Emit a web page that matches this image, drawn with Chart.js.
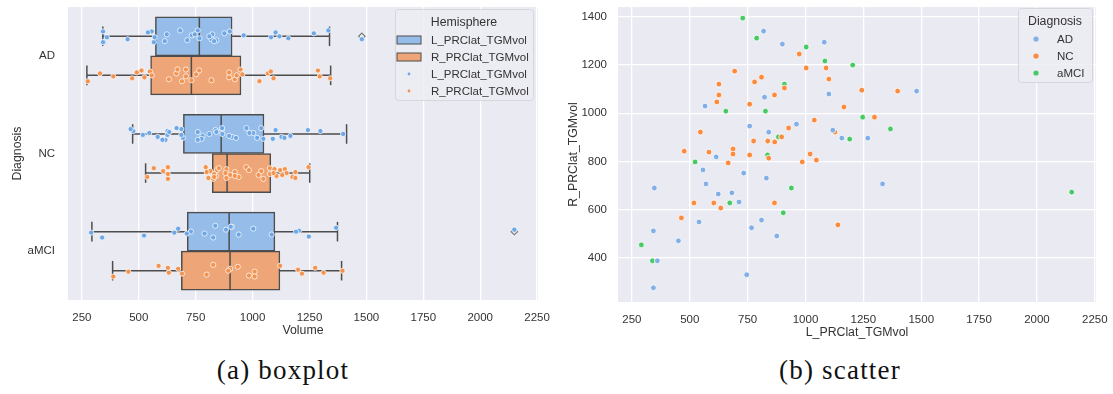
<!DOCTYPE html>
<html>
<head>
<meta charset="utf-8">
<script src="https://cdn.jsdelivr.net/npm/chart.js@4.4.0/dist/chart.umd.min.js"></script>
<style>
  body { margin:0; background:#fff; width:1113px; height:394px; position:relative; overflow:hidden; }
  .panel { position:absolute; top:0; }
  #boxPanel { left:0; }
  #scatPanel { left:555px; }
  .cap { position:absolute; top:357px; line-height:1; font-family:"Liberation Serif", serif; font-size:27px; letter-spacing:1.2px; color:#111; transform:translateX(-50%); white-space:nowrap; }
</style>
</head>
<body>
<div class="panel" id="boxPanel"><canvas id="boxChart" width="555" height="345"></canvas></div>
<div class="panel" id="scatPanel"><canvas id="scatChart" width="558" height="345"></canvas></div>
<div class="cap" style="left:283px">(a) boxplot</div>
<div class="cap" style="left:840px">(b) scatter</div>
<script>
const diagnoses = ['AD', 'NC', 'aMCI'];
const hemispheres = ['L_PRClat_TGMvol', 'R_PRClat_TGMvol'];
const volumeTicks = [250, 500, 750, 1000, 1250, 1500, 1750, 2000, 2250];
const rightTicks = [400, 600, 800, 1000, 1200, 1400];

// per-subject volumes (left / right hemisphere)
const adL = [819, 900, 1081, 566, 823, 759, 841, 961, 614, 1101, 1118, 1157, 1269, 1480, 557, 570, 347, 623, 682, 713, 733, 831, 540, 810, 767, 876, 451, 343, 360, 343, 746, 1333];
const adR = [1341, 1287, 1295, 1030, 1067, 947, 922, 955, 819, 1080, 930, 897, 897, 1092, 765, 707, 690, 665, 670, 632, 752, 731, 549, 557, 525, 491, 471, 512, 388, 276, 330, 707];
const ncL = [973, 694, 1003, 1089, 1101, 810, 780, 626, 909, 866, 626, 617, 759, 1038, 927, 546, 776, 837, 867, 897, 476, 583, 687, 687, 759, 841, 666, 1020, 986, 1047, 1243, 1398, 1166, 1298, 1127, 464, 518, 604, 634, 866, 1140];
const ncR = [1246, 1175, 1188, 1188, 1142, 1150, 1130, 1121, 1105, 1076, 1076, 1047, 1038, 972, 939, 922, 885, 885, 881, 902, 843, 839, 852, 831, 827, 814, 794, 831, 798, 806, 1096, 1092, 1026, 984, 922, 566, 628, 628, 607, 628, 537];
const mciL = [729, 789, 1003, 1084, 909, 656, 827, 883, 836, 523, 1204, 1247, 1367, 1191, 711, 673, 939, 904, 291, 339, 2150];
const mciR = [1395, 1312, 1275, 1217, 1121, 1009, 1009, 902, 827, 798, 1200, 984, 935, 893, 632, 628, 690, 587, 454, 388, 673];

// box summaries per diagnosis: [whisker low, q1, median, q3, whisker high]
const boxL = [[342, 573, 766, 910, 1338], [473, 696, 862, 1050, 1413], [294, 713, 897, 1098, 1373]];
const boxR = [[272, 552, 731, 949, 1343], [530, 823, 888, 1080, 1251], [385, 687, 901, 1120, 1391]];
const fliersL = [[1480], [], [2150]];
const fliersR = [[], [], []];

const FONT = '"Liberation Sans", Arial, sans-serif';
const tickFont = { family: FONT, size: 11.5 };
const titleFont = { family: FONT, size: 12.3 };
const TXT = '#333';
const EDGE = '#4d4d4d';
const BG = '#eaeaf2';

const boxFill = ['#96bde9', '#eea678'];
const stripFill = ['#6ea7e6', '#f39350'];
const diagColors = ['#82b0e6', '#f98c40', '#48c966'];

const DODGE = 0.2;
// jitter pattern for the strip points (in category units)
const jit = [0.03, -0.05, 0.01, 0.06, -0.02, -0.06, 0.04, -0.01, 0.05, -0.04, 0.0, 0.02, -0.03];

function stripPoints(groups, shift) {
  const out = [];
  groups.forEach((vals, g) => vals.forEach((v, i) => out.push({ x: v, y: g + shift + jit[(i + g * 5) % jit.length] })));
  return out;
}

const areaBg = {
  id: 'areaBg',
  beforeDraw(chart) {
    const { ctx, chartArea: a } = chart;
    ctx.save();
    ctx.fillStyle = BG;
    ctx.fillRect(a.left, a.top, a.right - a.left, a.bottom - a.top);
    ctx.restore();
  }
};

// whiskers, caps, medians and fliers drawn on top of each box dataset
const boxExtras = {
  id: 'boxExtras',
  afterDatasetDraw(chart, args) {
    const ds = chart.data.datasets[args.index];
    if (!ds.stats) return;
    const ctx = chart.ctx;
    const px = v => chart.scales.x.getPixelForValue(v);
    const seg = (x1, y1, x2, y2) => { ctx.beginPath(); ctx.moveTo(x1, y1); ctx.lineTo(x2, y2); ctx.stroke(); };
    ctx.save();
    args.meta.data.forEach((bar, i) => {
      const s = ds.stats[i];
      const yc = bar.y, h = bar.height;
      ctx.strokeStyle = EDGE;
      ctx.lineWidth = 1.5;
      seg(px(s[0]), yc, px(s[1]), yc);
      seg(px(s[3]), yc, px(s[4]), yc);
      seg(px(s[0]), yc - h / 4, px(s[0]), yc + h / 4);
      seg(px(s[4]), yc - h / 4, px(s[4]), yc + h / 4);
      seg(px(s[2]), yc - h / 2, px(s[2]), yc + h / 2);
      ctx.strokeStyle = '#777';
      ctx.lineWidth = 1.1;
      ds.fliers[i].forEach(v => {
        const x = px(v), r = 3.2;
        ctx.beginPath();
        ctx.moveTo(x, yc - r); ctx.lineTo(x + r, yc); ctx.lineTo(x, yc + r); ctx.lineTo(x - r, yc); ctx.closePath();
        ctx.stroke();
      });
    });
    ctx.restore();
  }
};

function makeLegend(id, spec) {
  return {
    id,
    afterDraw(chart) {
      const { ctx, chartArea: a } = chart;
      const left = a.right - spec.inset - spec.width, top = a.top + spec.top;
      ctx.save();
      ctx.fillStyle = 'rgba(236,236,243,0.85)';
      ctx.strokeStyle = '#d6d6de';
      ctx.lineWidth = 1;
      ctx.beginPath();
      ctx.roundRect(left + 0.5, top + 0.5, spec.width, spec.height, 3);
      ctx.fill();
      ctx.stroke();
      ctx.fillStyle = TXT;
      ctx.textBaseline = 'middle';
      ctx.font = '12.3px ' + FONT;
      ctx.textAlign = 'center';
      ctx.fillText(spec.title, left + spec.width / 2, top + 14);
      ctx.font = '11.5px ' + FONT;
      ctx.textAlign = 'left';
      spec.items.forEach((it, i) => {
        const y = top + 31 + i * 17;
        if (it.kind === 'patch') {
          ctx.fillStyle = it.color;
          ctx.fillRect(left + 2, y - 4, 24, 8);
          ctx.strokeStyle = EDGE;
          ctx.lineWidth = 1;
          ctx.strokeRect(left + 2, y - 4, 24, 8);
        } else {
          ctx.fillStyle = it.color;
          ctx.beginPath();
          ctx.arc(left + spec.markX, y, it.r, 0, Math.PI * 2);
          ctx.fill();
        }
        ctx.fillStyle = TXT;
        ctx.fillText(it.label, left + spec.textX, y + 0.5);
      });
      ctx.restore();
    }
  };
}

// fixed axis box sizes so both plot areas sit where they should
const fixW = w => s => { s.width = w; s.paddingTop = 0; s.paddingBottom = 0; };
const fixH = h => s => { s.height = h; s.paddingLeft = 0; s.paddingRight = 0; };

function valueAxis(min, max, ticks, title, fit, titlePad) {
  return {
    type: 'linear', min, max, offset: false, beginAtZero: false,
    afterBuildTicks: s => { s.ticks = ticks.map(v => ({ value: v })); },
    afterFit: fit,
    grid: { color: '#ffffff', lineWidth: 1.3, drawTicks: false, offset: false },
    border: { display: false },
    ticks: { font: tickFont, color: TXT, padding: 11, callback: v => String(v) },
    title: { display: true, text: title, font: titleFont, color: TXT, padding: titlePad }
  };
}

// category positions for the box rows (0 = AD at the top)
const rowAxis = extra => Object.assign({
  type: 'linear', min: -0.5, max: 2.5, reverse: true, offset: false, bounds: 'data', grace: 0,
  grid: { display: false, drawTicks: false, offset: false }
}, extra);

new Chart(document.getElementById('boxChart'), {
  type: 'bar',
  data: {
    datasets: [
      {
        label: hemispheres[0], data: boxL.map((b, g) => ({ y: g - DODGE, x: [b[1], b[3]] })), stats: boxL, fliers: fliersL,
        backgroundColor: boxFill[0], borderColor: EDGE, borderWidth: 1.5, borderSkipped: false,
        grouped: false, categoryPercentage: 1, barPercentage: 1, order: 2
      },
      {
        label: hemispheres[1], data: boxR.map((b, g) => ({ y: g + DODGE, x: [b[1], b[3]] })), stats: boxR, fliers: fliersR,
        backgroundColor: boxFill[1], borderColor: EDGE, borderWidth: 1.5, borderSkipped: false,
        grouped: false, categoryPercentage: 1, barPercentage: 1, order: 2
      },
      {
        type: 'scatter', label: hemispheres[0], yAxisID: 'yj', grouped: false,
        data: stripPoints([adL, ncL, mciL], -DODGE),
        backgroundColor: stripFill[0], borderColor: 'rgba(255,255,255,0.9)', borderWidth: 0.8, pointRadius: 2.6, order: 0
      },
      {
        type: 'scatter', label: hemispheres[1], yAxisID: 'yj', grouped: false,
        data: stripPoints([adR, ncR, mciR], DODGE),
        backgroundColor: stripFill[1], borderColor: 'rgba(255,255,255,0.9)', borderWidth: 0.8, pointRadius: 2.6, order: 0
      }
    ]
  },
  options: {
    responsive: false,
    animation: false,
    events: [],
    indexAxis: 'y',
    layout: { padding: { left: 0, top: 7, right: 17, bottom: 0 } },
    scales: {
      x: valueAxis(189, 2254, volumeTicks, 'Volume', fixH(45), { top: 2, bottom: 7 }),
      y: rowAxis({
        afterBuildTicks: s => { s.ticks = diagnoses.map((d, i) => ({ value: i })); },
        afterFit: fixW(68),
        border: { display: false },
        ticks: { font: tickFont, color: TXT, padding: 13, callback: v => diagnoses[v] },
        title: { display: true, text: 'Diagnosis', font: titleFont, color: TXT, padding: { top: 10, bottom: 0 } }
      }),
      yj: rowAxis({ display: false })
    },
    plugins: { legend: { display: false }, tooltip: { enabled: false } }
  },
  plugins: [areaBg, boxExtras, makeLegend('hemiLegend', {
    title: 'Hemisphere', inset: 5, top: 2, width: 138, height: 91, markX: 14, textX: 36,
    items: [
      { kind: 'patch', color: boxFill[0], label: hemispheres[0] },
      { kind: 'patch', color: boxFill[1], label: hemispheres[1] },
      { kind: 'dot', color: stripFill[0], r: 1.4, label: hemispheres[0] },
      { kind: 'dot', color: stripFill[1], r: 1.4, label: hemispheres[1] }
    ]
  })]
});

const pairs = (xs, ys) => xs.map((v, i) => ({ x: v, y: ys[i] }));

new Chart(document.getElementById('scatChart'), {
  type: 'scatter',
  data: {
    datasets: [[adL, adR], [ncL, ncR], [mciL, mciR]].map((g, i) => ({
      label: diagnoses[i], data: pairs(g[0], g[1]),
      backgroundColor: diagColors[i], borderColor: '#ffffff', borderWidth: 0.8, pointRadius: 2.9
    }))
  },
  options: {
    responsive: false,
    animation: false,
    events: [],
    layout: { padding: { left: 0, top: 7, right: 17, bottom: 0 } },
    scales: {
      x: valueAxis(190, 2255, volumeTicks, 'L_PRClat_TGMvol', fixH(43), { top: 2, bottom: 5 }),
      y: valueAxis(217, 1441, rightTicks, 'R_PRClat_TGMvol', fixW(63), { top: 11, bottom: 0 })
    },
    plugins: { legend: { display: false }, tooltip: { enabled: false } }
  },
  plugins: [areaBg, makeLegend('diagLegend', {
    title: 'Diagnosis', inset: 4, top: 1, width: 74, height: 74, markX: 18, textX: 39,
    items: diagnoses.map((d, i) => ({ kind: 'dot', color: diagColors[i], r: 2.6, label: d }))
  })]
});
</script>
</body>
</html>
